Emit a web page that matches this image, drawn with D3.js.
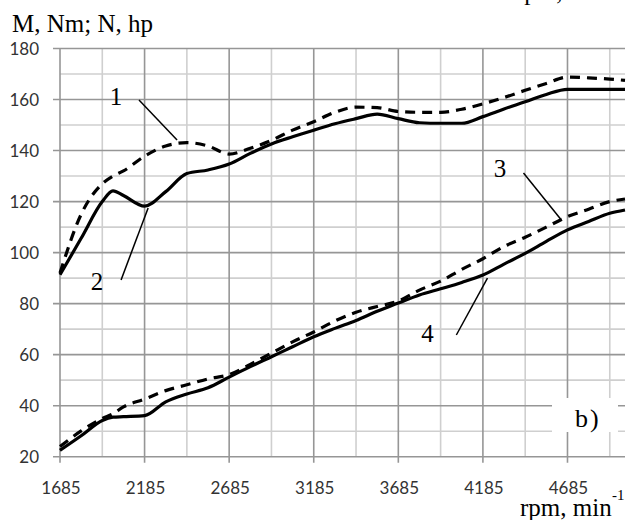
<!DOCTYPE html>
<html>
<head>
<meta charset="utf-8">
<script src="https://cdn.jsdelivr.net/npm/d3@7"></script>
<style>
  body { margin: 0; background: #fff; }
  svg { display: block; }
</style>
</head>
<body>
<div id="chart"></div>
<script>
// rpm points (shared by every curve)
const rpm = [1685, 1810, 1935, 1998, 2060, 2185, 2310, 2435, 2560, 2685, 2810, 2935, 3060, 3185,
             3310, 3435, 3560, 3685, 3810, 3935, 4060, 4185, 4310, 4435, 4560, 4685, 4810, 4935, 5025];
// curve 1 - torque, dashed
const curve1 = [92, 115, 127, 130, 132, 137.8, 141.8, 143.1, 141.8, 138.6, 140.9, 144, 148, 151.3,
                155, 157, 156.8, 155.3, 155, 155, 156.2, 158.3, 160.8, 163.6, 166.3, 168.8, 168.5, 168, 167.5];
// curve 2 - torque, solid
const curve2 = [91.3, 105.6, 120, 124.2, 122.4, 118.2, 123.9, 131, 132.4, 134.7, 138.9, 142.6, 145.4, 148,
                150.5, 152.5, 154.3, 152.5, 150.9, 150.7, 150.7, 153.3, 156.3, 159.1, 162, 164, 164, 164, 164];
// curve 3 - power, dashed
const curve3 = [24, 30.1, 35, 36.8, 39.5, 42.6, 45.9, 48.2, 50.5, 52.2, 56.2, 60.6, 65, 68.9,
                73.2, 76.6, 78.9, 81, 85.3, 88.8, 93.4, 97.6, 102.4, 106, 110, 114.1, 117, 120, 121];
// curve 4 - power, solid
const curve4 = [22.5, 28.2, 34.2, 35.5, 35.7, 36.1, 41.5, 44.6, 47, 51.2, 55.3, 59.2, 63.1, 67,
                70.3, 73.4, 77, 80.2, 83.4, 85.8, 88.3, 91.2, 95.5, 99.7, 104.4, 108.9, 112.2, 115.4, 116.7];

const xTicks = [1685, 2185, 2685, 3185, 3685, 4185, 4685];
const yTicks = [20, 40, 60, 80, 100, 120, 140, 160, 180];

// curve numbers and their leader lines (data units)
const labelText = ["1", "2", "3", "4"];
const labelPos = [[2016, 157.8], [1904, 85.3], [4286, 129.6], [3857, 65]];
const leaderFrom = [[2152, 159.8], [2046, 89.3], [4425, 131.2], [4028, 67.7]];
const leaderTo = [[2377, 144.1], [2206, 117.5], [4644, 113.2], [4212, 90]];

const W = 632, H = 520;
const plot = {left: 60, right: 625, top: 48.5, bottom: 456.7};

const svg = d3.select("#chart").append("svg")
    .attr("width", W)
    .attr("height", H);

const x = d3.scaleLinear().domain([1685, 5025]).range([plot.left, plot.right]);
const y = d3.scaleLinear().domain([20, 180]).range([plot.bottom, plot.top]);

// grid: minor first, then major on top
const minorX = d3.range(1935, 5025, 500);
const minorY = d3.range(30, 180, 20);

svg.append("g").selectAll("line")
    .data(minorX)
    .join("line")
    .attr("x1", d => x(d)).attr("x2", d => x(d))
    .attr("y1", plot.top).attr("y2", plot.bottom)
    .attr("stroke", "#cfcfcf").attr("stroke-width", 1.6);

svg.append("g").selectAll("line")
    .data(minorY)
    .join("line")
    .attr("x1", plot.left).attr("x2", plot.right)
    .attr("y1", d => y(d)).attr("y2", d => y(d))
    .attr("stroke", "#cfcfcf").attr("stroke-width", 1.6);

svg.append("g").selectAll("line")
    .data(xTicks)
    .join("line")
    .attr("x1", d => x(d)).attr("x2", d => x(d))
    .attr("y1", plot.top).attr("y2", plot.bottom + 6)
    .attr("stroke", "#969696").attr("stroke-width", 1.6);

svg.append("g").selectAll("line")
    .data(yTicks)
    .join("line")
    .attr("x1", plot.left - 7).attr("x2", plot.right)
    .attr("y1", d => y(d)).attr("y2", d => y(d))
    .attr("stroke", "#969696").attr("stroke-width", 1.6);

// tick labels
svg.append("g").selectAll("text")
    .data(yTicks)
    .join("text")
    .attr("x", 39)
    .attr("y", d => y(d) + 6)
    .attr("text-anchor", "end")
    .style("font-family", "Lato, 'DejaVu Sans', sans-serif")
    .style("font-size", "17px")
    .style("fill", "#333")
    .text(d => d);

svg.append("g").selectAll("text")
    .data(xTicks)
    .join("text")
    .attr("x", d => x(d) + 1)
    .attr("y", 494)
    .attr("text-anchor", "middle")
    .style("font-family", "Lato, 'DejaVu Sans', sans-serif")
    .style("font-size", "17px")
    .style("fill", "#333")
    .text(d => d);

// curves
const series = [
  {values: curve1, dash: "10,7"},
  {values: curve2, dash: null},
  {values: curve3, dash: "10,7"},
  {values: curve4, dash: null}
];

const line = d3.line()
    .x(d => x(d[0]))
    .y(d => y(d[1]))
    .curve(d3.curveMonotoneX);

svg.append("g").selectAll("path")
    .data(series)
    .join("path")
    .attr("d", s => line(rpm.map((r, i) => [r, s.values[i]])))
    .attr("fill", "none")
    .attr("stroke", "#000")
    .attr("stroke-width", 3.2)
    .attr("stroke-linejoin", "round")
    .attr("stroke-dasharray", s => s.dash);

// leader lines and curve numbers
svg.append("g").selectAll("line")
    .data(leaderFrom)
    .join("line")
    .attr("x1", d => x(d[0])).attr("y1", d => y(d[1]))
    .attr("x2", (d, i) => x(leaderTo[i][0])).attr("y2", (d, i) => y(leaderTo[i][1]))
    .attr("stroke", "#000").attr("stroke-width", 1.5);

svg.append("g").selectAll("text")
    .data(labelText)
    .join("text")
    .attr("x", (d, i) => x(labelPos[i][0]))
    .attr("y", (d, i) => y(labelPos[i][1]))
    .attr("text-anchor", "middle")
    .style("font-family", "'Liberation Serif', 'Times New Roman', serif")
    .style("font-size", "25px")
    .text(d => d);

// panel label box
svg.append("rect")
    .attr("x", 552).attr("y", 398)
    .attr("width", 66).attr("height", 34)
    .attr("fill", "#fff");

svg.append("text")
    .attr("x", 575).attr("y", 427)
    .style("font-family", "'Liberation Serif', 'Times New Roman', serif")
    .style("font-size", "26px")
    .text("b");
svg.append("text")
    .attr("x", 590).attr("y", 427)
    .style("font-family", "'Liberation Serif', 'Times New Roman', serif")
    .style("font-size", "26px")
    .text(")");

// axis titles
svg.append("text")
    .attr("x", 12).attr("y", 32)
    .style("font-family", "'Liberation Serif', 'Times New Roman', serif")
    .style("font-size", "25px")
    .text("M, Nm; N, hp");

svg.append("text")
    .attr("x", 520).attr("y", 516)
    .style("font-family", "'Liberation Serif', 'Times New Roman', serif")
    .style("font-size", "25px")
    .text("rpm, min");

svg.append("text")
    .attr("x", 612).attr("y", 500)
    .style("font-family", "'Liberation Serif', 'Times New Roman', serif")
    .style("font-size", "15px")
    .text("-1");

// clipped remnant of the neighbouring panel's axis title
svg.append("text")
    .attr("x", 516).attr("y", 0)
    .style("font-family", "'Liberation Serif', 'Times New Roman', serif")
    .style("font-size", "25px")
    .text("rpm, min");
</script>
</body>
</html>
